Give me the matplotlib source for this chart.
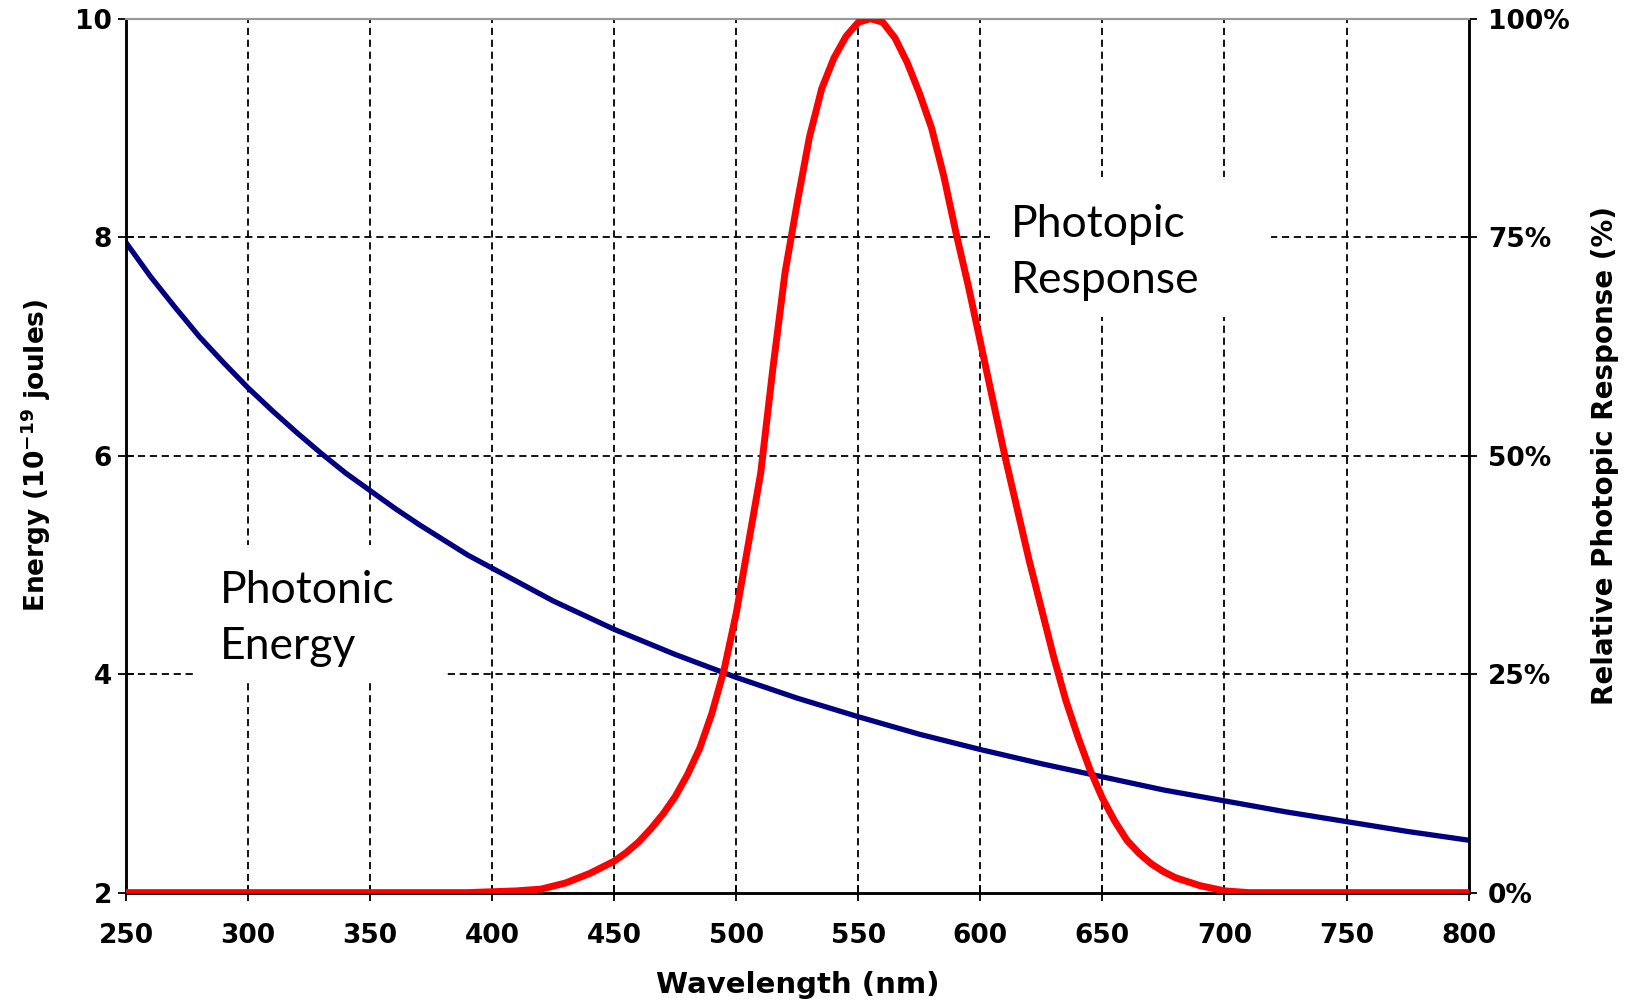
import matplotlib
matplotlib.use("Agg")
import matplotlib.pyplot as plt
from matplotlib.patches import Rectangle
from matplotlib.ticker import FixedLocator

# photonic energy (10^-19 J)
wl_energy = [250, 260, 270, 280, 290, 300, 310, 320, 330, 340, 350, 360, 370, 380, 390,
             400, 425, 450, 475, 500, 525, 550, 575, 600, 625, 650, 675, 700, 725,
             750, 775, 800]
energy = [7.95, 7.64, 7.36, 7.09, 6.85, 6.62, 6.41, 6.21, 6.02, 5.84, 5.68, 5.52, 5.37,
          5.23, 5.09, 4.97, 4.67, 4.41, 4.18, 3.97, 3.78, 3.61, 3.45, 3.31, 3.18, 3.06,
          2.94, 2.84, 2.74, 2.65, 2.56, 2.48]

# relative photopic response (%)
wl_photopic = [250, 300, 350, 390, 400, 410, 420, 430, 440, 450, 455, 460, 465, 470, 475,
               480, 485, 490, 495, 500, 505, 510, 515, 520, 525, 530, 535, 540, 545,
               550, 555, 560, 565, 570, 575, 580, 585, 590, 595, 600, 605, 610, 615,
               620, 625, 630, 635, 640, 645, 650, 655, 660, 665, 670, 675, 680, 690,
               700, 710, 750, 800]
photopic = [0, 0, 0, 0, 0.1, 0.2, 0.4, 1.1, 2.2, 3.6, 4.6, 5.8, 7.3, 9.0, 11.0,
            13.5, 16.5, 20.5, 25.5, 32, 40, 48, 60, 71, 79, 86.5, 92, 95.5, 98,
            99.6, 100, 99.6, 97.8, 95, 91.5, 87.5, 82, 75.5, 69.5, 63, 56.5, 50, 44,
            38, 32.5, 27, 22, 17.8, 14, 10.8, 8.2, 6.0, 4.5, 3.3, 2.4, 1.7, 0.8,
            0.2, 0, 0, 0]

x_ticks = list(range(250, 801, 50))
y_ticks = [2, 4, 6, 8, 10]
pct_ticks = [0, 25, 50, 75, 100]
pct_labels = ["0%", "25%", "50%", "75%", "100%"]

fig = plt.figure(figsize=(16.33, 10.06), dpi=100)
ax = fig.add_axes([0.0772, 0.1127, 0.8221, 0.8687])
ax2 = ax.twinx()

ax.set_xlim(250, 800)
ax.set_ylim(2, 10)
ax2.set_ylim(0, 100)

grid_style = dict(color="black", linewidth=1.3, linestyle=(0, (4, 2.6)))
for xv in x_ticks[1:-1]:
    ax.axvline(xv, zorder=1, **grid_style)
for yv in y_ticks[1:-1]:
    ax.axhline(yv, zorder=1, **grid_style)

# white boxes behind the annotations
ax.add_patch(Rectangle((279, 3.92), 101, 1.26, facecolor="white", edgecolor="none", zorder=1.5))
ax.add_patch(Rectangle((604, 7.27), 115, 1.28, facecolor="white", edgecolor="none", zorder=1.5))

ax.plot(wl_energy, energy, color="#000080", linewidth=3.8, zorder=3)
ax2.plot(wl_photopic, photopic, color="#ff0000", linewidth=5, zorder=3)

ax.text(288.5, 4.95, "Photonic\nEnergy", fontsize=32, family="Lato", va="top", ha="left",
        linespacing=1.45, zorder=4)
ax.text(612.5, 8.30, "Photopic\nResponse", fontsize=32, family="Lato", va="top", ha="left",
        linespacing=1.45, zorder=4)

ax.xaxis.set_major_locator(FixedLocator(x_ticks))
ax.yaxis.set_major_locator(FixedLocator(y_ticks))
ax2.yaxis.set_major_locator(FixedLocator(pct_ticks))
ax2.set_yticklabels(pct_labels)

for a in (ax, ax2):
    a.tick_params(direction="inout", length=12, width=1.3, labelsize=19, pad=8)
    for lab in a.get_xticklabels() + a.get_yticklabels():
        lab.set_fontweight("bold")
    a.spines["top"].set_color("#999999")
    a.spines["top"].set_linewidth(1.5)
    for s in ("left", "right", "bottom"):
        a.spines[s].set_linewidth(1.8)
ax.tick_params(axis="x", pad=16)
ax.tick_params(axis="y", pad=4)

ax.set_xlabel("Wavelength (nm)", fontsize=21, fontweight="bold", labelpad=16)
ax.set_ylabel("Energy (10$^{\\mathbf{-19}}$ joules)", fontsize=19, fontweight="bold", labelpad=16)
ax2.set_ylabel("Relative Photopic Response (%)", fontsize=20, fontweight="bold", labelpad=15)

fig.savefig("out.png", dpi=100, facecolor="white")
